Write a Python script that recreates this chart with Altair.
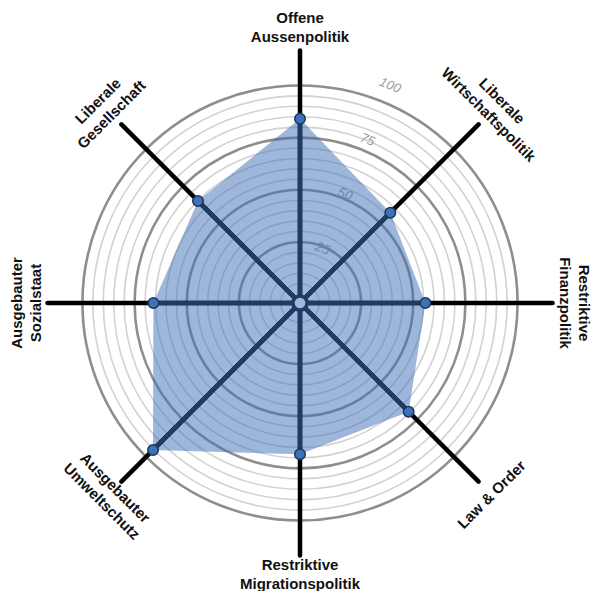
import math
import altair as alt
import pandas as pd

# ---- data ----
categories = [
    "Offene\nAussenpolitik",
    "Liberale\nWirtschaftspolitik",
    "Restriktive\nFinanzpolitik",
    "Law & Order",
    "Restriktive\nMigrationspolitik",
    "Ausgebauter\nUmweltschutz",
    "Ausgebauter\nSozialstaat",
    "Liberale\nGesellschaft",
]
values = [74, 50, 49, 61, 60, 84, 58, 57]
label_angles = [0, 45, 90, 315, 0, 45, 270, 315]
major_rings = [25, 50, 75, 100]
minor_rings = [5, 10, 15, 20, 30, 35, 40, 45, 55, 60, 65, 70, 80, 85, 90, 95]
ring_labels = ["25", "50", "75", "100"]

# ---- geometry helpers (pixel units, centre at 0,0) ----
W, H = 584, 583
CX, CY = 292, 295
R0, K = 10.0, 2.355
AXIS_END = 103
LINE_H = 19


def rad(v):
    return R0 + K * v


def ang(i):
    return math.radians(i * 360.0 / len(categories))


def label_r(i):
    if i in (3, 4, 5):
        return 271
    if i in (2, 6):
        return 274
    return 276


n = len(categories)

spokes = pd.DataFrame({
    "x": [0.0] * n, "y": [0.0] * n,
    "x2": [rad(AXIS_END) * math.sin(ang(i)) for i in range(n)],
    "y2": [rad(AXIS_END) * math.cos(ang(i)) for i in range(n)],
})
pts = pd.DataFrame({
    "cat": categories,
    "value": values,
    "x": [rad(values[i]) * math.sin(ang(i)) for i in range(n)],
    "y": [rad(values[i]) * math.cos(ang(i)) for i in range(n)],
    "x0": [0.0] * n, "y0": [0.0] * n,
    "order": list(range(n)),
})
poly = pd.concat([pts, pts.iloc[[0]].assign(order=n)], ignore_index=True)

rings_major = pd.DataFrame({"x": 0.0, "y": 0.0, "size": [math.pi * rad(v) ** 2 for v in major_rings]})
rings_minor = pd.DataFrame({"x": 0.0, "y": 0.0, "size": [math.pi * rad(v) ** 2 for v in minor_rings]})
centre = pd.DataFrame({"x": [0.0], "y": [0.0], "size": [math.pi * 8 ** 2]})

ra = math.radians(22.5)
rlab = pd.DataFrame({
    "t": ring_labels,
    "x": [(rad(v) - 10) * math.sin(ra) for v in major_rings],
    "y": [(rad(v) - 10) * math.cos(ra) for v in major_rings],
})

# label anchors: first line sits at the anchor, so shift multi-line labels
# half the block height towards the text's "up" direction
lx, ly = [], []
for i in range(n):
    nl = categories[i].count("\n") + 1
    shift = (nl - 1) * LINE_H / 2.0
    a = math.radians(label_angles[i])
    lx.append(label_r(i) * math.sin(ang(i)) + shift * math.sin(a))
    ly.append(label_r(i) * math.cos(ang(i)) + shift * math.cos(a))
labs = pd.DataFrame({"t": categories, "x": lx, "y": ly, "a": label_angles})

xs = alt.Scale(domain=[-CX, W - CX], nice=False, zero=False)
ys = alt.Scale(domain=[-(H - CY), CY], nice=False, zero=False)
X = lambda f="x": alt.X(f"{f}:Q", scale=xs, axis=None)
Y = lambda f="y": alt.Y(f"{f}:Q", scale=ys, axis=None)

minor = alt.Chart(rings_minor).mark_point(shape="circle", filled=False, stroke="#d2d2d2", strokeWidth=1.6, opacity=1).encode(
    x=X(), y=Y(), size=alt.Size("size:Q", scale=None, legend=None))
major = alt.Chart(rings_major).mark_point(shape="circle", filled=False, stroke="#8e8e8e", strokeWidth=2.6, opacity=1).encode(
    x=X(), y=Y(), size=alt.Size("size:Q", scale=None, legend=None))
rtext = alt.Chart(rlab).mark_text(font="Liberation Sans", fontSize=13, fontStyle="italic", color="#9a9a9a",
                                  angle=22.5, align="center", baseline="middle").encode(x=X(), y=Y(), text="t:N")
area = alt.Chart(poly).mark_line(fill="#3c6eb4", fillOpacity=0.5, strokeOpacity=0, strokeWidth=0).encode(
    x=X(), y=Y(), order="order:Q")
black = alt.Chart(spokes).mark_rule(color="#000000", strokeWidth=4.5, strokeCap="round").encode(
    x=X(), y=Y(), x2="x2:Q", y2="y2:Q")
navy = alt.Chart(pts).mark_rule(color="#1d3b63", strokeWidth=4.5, strokeCap="butt").encode(
    x=X("x0"), y=Y("y0"), x2="x:Q", y2="y:Q")
hole = alt.Chart(centre).mark_point(shape="circle", filled=True, fill="#9db7de", stroke="#1d3b63", strokeWidth=3.5, opacity=1).encode(
    x=X(), y=Y(), size=alt.Size("size:Q", scale=None, legend=None))
dots = alt.Chart(pts).mark_point(shape="circle", filled=True, fill="#3b72ba", stroke="#1b3457", strokeWidth=1.5, size=110, opacity=1).encode(
    x=X(), y=Y())
text = alt.Chart(labs).mark_text(font="Liberation Sans", fontSize=15, fontWeight="bold", color="#111111",
                                 lineBreak="\n", lineHeight=LINE_H, align="center", baseline="middle").encode(
    x=X(), y=Y(), text="t:N", angle=alt.Angle("a:Q", scale=None))

chart = alt.layer(minor, major, rtext, area, black, navy, hole, dots, text).properties(
    width=W, height=H, padding=0, autosize=alt.AutoSizeParams(type="none")
).configure(background="white", view=alt.ViewConfig(stroke=None))

chart.save("out.html", embed_options={"renderer": "svg", "actions": False})
